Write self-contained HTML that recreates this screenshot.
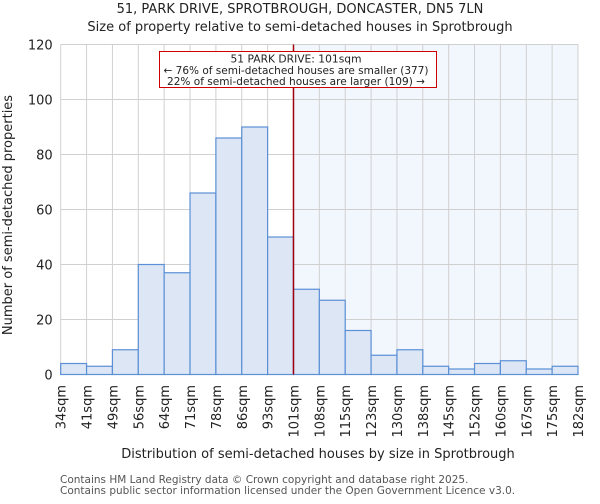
<!DOCTYPE html>
<html><head><meta charset="utf-8"><style>
body{margin:0;background:#fff;font-family:"DejaVu Sans","Liberation Sans",sans-serif}
svg text{font-family:"DejaVu Sans","Liberation Sans",sans-serif}
</style></head><body>
<svg id="c" width="600" height="500">
<text x="300" y="13" text-anchor="middle" font-size="13" fill="#222">51, PARK DRIVE, SPROTBROUGH, DONCASTER, DN5 7LN</text>
<text x="300" y="31" text-anchor="middle" font-size="13" fill="#222">Size of property relative to semi-detached houses in Sprotbrough</text>
<g id="plot"></g>
<text x="318" y="458" text-anchor="middle" font-size="13" fill="#222">Distribution of semi-detached houses by size in Sprotbrough</text>
<text transform="translate(12,215) rotate(-90)" text-anchor="middle" font-size="13" fill="#222">Number of semi-detached properties</text>
<text x="60" y="483" font-size="10.5" fill="#555">Contains HM Land Registry data © Crown copyright and database right 2025.</text>
<text x="60" y="494" font-size="10.5" fill="#555">Contains public sector information licensed under the Open Government Licence v3.0.</text>
</svg>
<script>
const labels=["34sqm","41sqm","49sqm","56sqm","64sqm","71sqm","78sqm","86sqm","93sqm","101sqm","108sqm","115sqm","123sqm","130sqm","138sqm","145sqm","152sqm","160sqm","167sqm","175sqm","182sqm"];
const counts=[4,3,9,40,37,66,86,90,50,31,27,16,7,9,3,2,4,5,2,3];
const yTicks=[0,20,40,60,80,100,120];
const markerIndex=9;
const NS="http://www.w3.org/2000/svg";
const L=60.7,R=578,T=44.5,B=374.5,yMax=120;
const n=counts.length,bw=(R-L)/n;
const xs=i=>L+i*bw, ys=v=>B-(v/yMax)*(B-T);
const g=document.getElementById('plot');
function mk(t,a){const e=document.createElementNS(NS,t);for(const k in a)e.setAttribute(k,a[k]);g.appendChild(e);return e;}
let e=mk('rect',{x:xs(markerIndex),y:T,width:R-xs(markerIndex),height:B-T,fill:'#f2f6fd'});


for(let i=0;i<=n;i++){e=mk('line',{x1:xs(i),x2:xs(i),y1:T,y2:B,stroke:'#d0d0d0','stroke-width':1});

}
yTicks.forEach(v=>{e=mk('line',{x1:L,x2:R,y1:ys(v),y2:ys(v),stroke:'#d0d0d0','stroke-width':1});


e=mk('text',{x:L-8,y:ys(v)+5,'text-anchor':'end','font-size':13,fill:'#222'});e.textContent=v;

});
counts.forEach((v,i)=>{e=mk('rect',{x:xs(i),y:ys(v),width:bw,height:B-ys(v),fill:'#dce6f5',stroke:'#5b8fd6','stroke-width':1.2});

});
labels.forEach((s,i)=>{e=mk('text',{transform:`translate(${xs(i)+5},385) rotate(-90)`,'text-anchor':'end','font-size':13,fill:'#222'});e.textContent=s;

});
e=mk('line',{x1:xs(markerIndex),x2:xs(markerIndex),y1:T,y2:B,stroke:'#a00010','stroke-width':1.5});


e=mk('rect',{x:159.5,y:51.5,width:277,height:36,fill:'#fff',stroke:'#cc0000','stroke-width':1});


const annWidths=[131,265,258];
["51 PARK DRIVE: 101sqm","← 76% of semi-detached houses are smaller (377)","22% of semi-detached houses are larger (109) →"].forEach((s,k)=>{
e=mk('text',{x:296,y:62.5+k*11.3,'text-anchor':'middle','font-size':11,fill:'#222',textLength:annWidths[k],lengthAdjust:'spacingAndGlyphs'});e.textContent=s;

});
</script>
</body></html>
